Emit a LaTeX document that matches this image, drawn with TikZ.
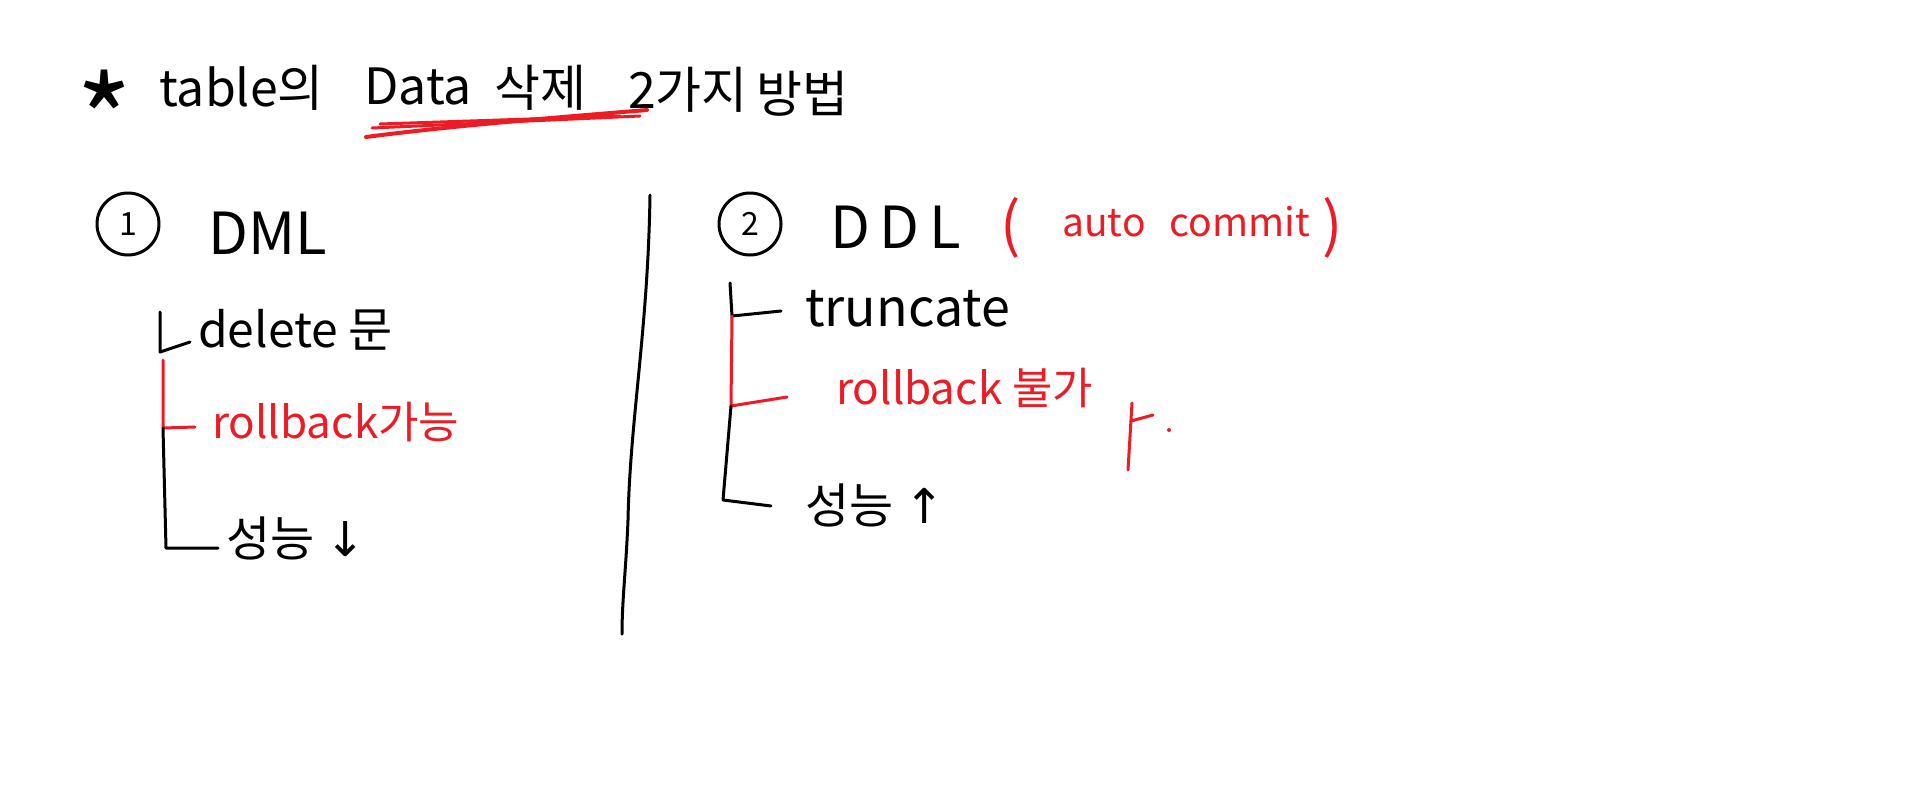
\documentclass[tikz,border=0pt]{standalone}
\usepackage{fontspec}
\setmainfont{Noto Sans CJK KR}
\newfontfamily\symfont{DejaVu Sans}
\definecolor{hred}{RGB}{237,28,36}
\begin{document}
\begin{tikzpicture}[x=1pt,y=-1pt,line cap=round,line join=round,
  ink/.style={line width=3pt,draw=black},
  redink/.style={line width=3pt,draw=hred},
  txt/.style={font=\fontsize{48}{54}\selectfont,inner sep=0pt,anchor=west,text=black},
  bigtxt/.style={txt,font=\fontsize{58}{64}\selectfont},
  rtxt/.style={txt,font=\fontsize{44}{50}\selectfont,text=hred},
  numc/.style={circle,draw=black,line width=3pt,minimum size=62pt,inner sep=0pt,font=\fontsize{32}{38}\selectfont}]
\fill[white] (0,0) rectangle (1913,796);
\useasboundingbox (0,0) rectangle (1913,796);
% title
\node[txt,font=\fontsize{120}{130}\selectfont] (star) at (76,118) {*};
\node[txt,font=\fontsize{50}{56}\selectfont] (t1) at (159,88) {table의};
\node[txt,font=\fontsize{50}{56}\selectfont] (t2) at (364,86) {Data};
\node[txt,font=\fontsize{50}{56}\selectfont] (t3) at (494,88) {삭제};
\node[txt,font=\fontsize{50}{56}\selectfont] (t4) at (628,90) {2가지};
\node[txt,font=\fontsize{50}{56}\selectfont] (t5) at (756,94) {방법};
\coordinate (u1) at (366,137);
\coordinate (u2) at (647,110);
\draw[redink,line width=4pt] (u1) .. controls (450,126) and (550,118) .. (u2);
\draw[redink,line width=3pt] (372,128) -- (640,116);
\draw[redink,line width=3pt] (380,124) -- (620,116);
% section 1
\node[numc] (n1) at (128,224) {1};
\node[bigtxt] (dml) at (208,233) {DML};
\coordinate (l1a) at (160,312);
\coordinate (l1b) at (160,352);
\draw[ink] (l1a) -- (l1b) -- (190,342);
\node[txt] (del) at (198,330) {delete 문};
\coordinate (r1a) at (163,360);
\coordinate (r1b) at (163,428);
\draw[redink] (r1a) -- (r1b) -- (195,427);
\node[rtxt] (rb1) at (212,422) {rollback가능};
\coordinate (b1b) at (166,548);
\draw[ink] (r1b) -- (b1b) -- (218,548);
\node[txt] (perf1) at (226,538) {성능 {\symfont ↓}};
% divider
\coordinate (d1) at (650,195);
\coordinate (d2) at (622,634);
\draw[ink] (d1) .. controls (648,330) and (630,420) .. (628,520) .. controls (626,570) and (622,600) .. (d2);
% section 2
\node[numc] (n2) at (750,224) {2};
\node[bigtxt] (ddl) at (830,227) {D\,D\,L};
\node[rtxt,font=\fontsize{60}{66}\selectfont] (lp) at (1000,228) {(};
\node[rtxt,font=\fontsize{39}{45}\selectfont] (ac) at (1062,222) {auto\hspace{24pt}commit};
\node[rtxt,font=\fontsize{60}{66}\selectfont] (rp) at (1322,228) {)};
\coordinate (l2a) at (730,283);
\coordinate (l2b) at (732,316);
\draw[ink] (l2a) -- (l2b) -- (781,311);
\node[txt,font=\fontsize{52}{58}\selectfont] (trunc) at (805,309) {truncate};
\coordinate (r2b) at (731,406);
\draw[redink] (l2b) -- (r2b) -- (787,397);
\node[rtxt] (rb2) at (836,388) {rollback 불가};
\coordinate (m1) at (1132,403);
\coordinate (m2) at (1128,470);
\draw[redink] (m1) -- (m2);
\draw[redink] (1131,421) -- (1153,415);
\fill[hred] (1169,430) circle (2pt);
\draw[ink] (r2b) -- (723,500) -- (771,506);
\node[txt] (perf2) at (805,505) {성능 {\symfont ↑}};
\end{tikzpicture}
\end{document}
